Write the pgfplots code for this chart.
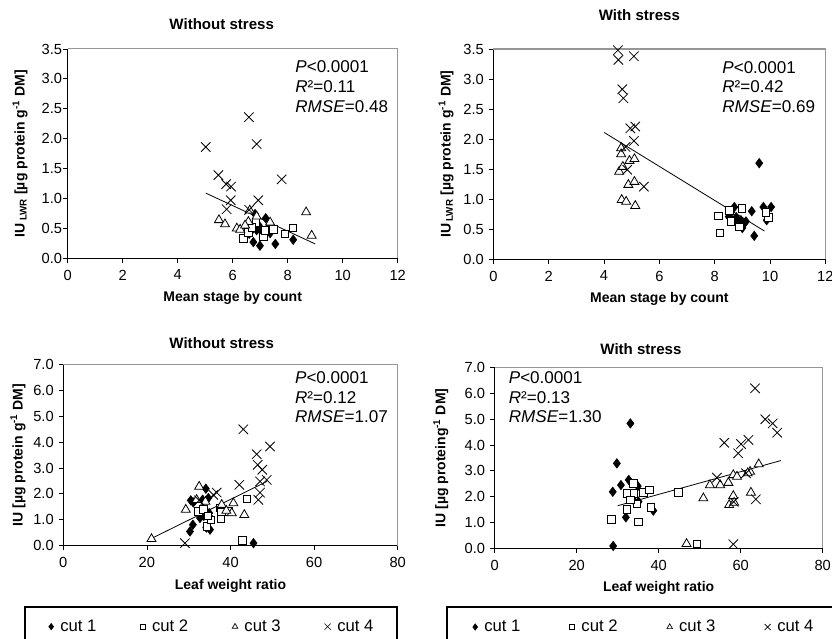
\documentclass[border=0pt]{standalone}
\usepackage{fontspec}
\setmainfont{Liberation Sans}
\usepackage{pgfplots}
\pgfplotsset{compat=1.18}
\definecolor{bordergray}{RGB}{150,150,150}
\pgfplotsset{
  every axis title shift=0pt,
  panel/.style={
    scale only axis,
    axis x line*=bottom, axis y line*=left,
    axis line style={black, line width=0.8pt},
    tick align=outside,
    major tick length=3.5pt,
    tick style={black, line width=0.6pt},
    tick label style={font=\fontsize{11}{12}\selectfont},
    /pgf/number format/assume math mode=true,
    yticklabel style={/pgf/number format/fixed, /pgf/number format/fixed zerofill, /pgf/number format/precision=1},
    title style={font=\bfseries\fontsize{11.3}{13}\selectfont, anchor=center},
    label style={font=\bfseries\fontsize{10.5}{12}\selectfont},
    xlabel style={at={(axis description cs:0.5,0)}, anchor=center, yshift=-30pt},
    xticklabel style={anchor=north, inner sep=0pt, yshift=-5pt},
    clip=false,
  },
  c1/.style={only marks, mark=diamond*, mark size=3.5pt, mark options={fill=black, draw=black, line width=0.5pt}},
  c2/.style={only marks, mark=square*, mark size=2.8pt, mark options={fill=white, draw=black, line width=0.6pt}},
  c3/.style={only marks, mark=triangle*, mark size=3.9pt, mark options={fill=white, draw=black, line width=0.6pt}},
  c4/.style={only marks, mark=x, mark size=5pt, mark options={draw=black, line width=0.6pt}},
  reg/.style={black, line width=0.6pt, no marks, forget plot},
  legpanel/.style={
    legend columns=4,
    legend style={draw=none, fill=none, anchor=center, font=\fontsize{12.5}{14}\selectfont,
      /tikz/every odd column/.append style={column sep=3pt}},
    legend image code/.code={\path[##1] plot coordinates {(0pt,0pt)};},
  },
}
\newcommand{\annfont}{\fontsize{12.8}{14.8}\selectfont}
\begin{document}
\begin{tikzpicture}
% ---------------- Panel 1 ----------------
\begin{axis}[panel, at={(50.78pt,285.53pt)}, anchor=south west,
  width=247.5pt, height=157pt,
  xmin=0, xmax=12, ymin=0, ymax=3.5,
  xtick={0,2,...,12}, ytick={0,0.5,...,3.5},
  yticklabel style={anchor=east, inner sep=0pt, xshift=-0.5pt},
  title={Without stress}, title style={at={(axis description cs:0.4667,1.1195)}},
  xlabel={Mean stage by count},
  ylabel={IU\,\textsubscript{LWR} [µg protein g\textsuperscript{-1} DM]},
  ylabel style={at={(axis description cs:-0.1445,0.5)}, anchor=center},
]
\addplot[c1] coordinates {(6.81,0.74) (7.20,0.67) (6.75,0.27) (6.99,0.21) (7.55,0.24) (8.20,0.31) (6.51,0.51) (6.69,0.47) (6.87,0.47) (7.05,0.44) (7.24,0.47) (7.36,0.42) (6.60,0.41) (6.95,0.55) (7.30,0.52)};
\addplot[c2] coordinates {(6.39,0.33) (6.57,0.43) (7.11,0.36) (7.48,0.48) (7.90,0.41) (8.18,0.51) (6.85,0.60) (7.17,0.47) (6.70,0.52)};
\addplot[c3] coordinates {(5.50,0.64) (5.72,0.57) (6.15,0.50) (6.27,0.48) (6.62,0.80) (6.87,0.70) (7.36,0.60) (8.67,0.77) (8.87,0.38) (6.57,0.61) (6.45,0.55)};
\addplot[c4] coordinates {(5.02,1.86) (6.59,2.36) (6.87,1.91) (7.78,1.32) (5.48,1.39) (5.76,1.24) (5.94,1.20) (5.93,0.97) (5.78,0.82) (6.93,0.97) (6.60,0.81)};
\addplot[reg] coordinates {(5.02,1.09) (9.0,0.24)};
\draw[bordergray, line width=0.8pt] (rel axis cs:0,1) -- (rel axis cs:1,1) -- (rel axis cs:1,0);
\node[anchor=west, align=left, inner sep=0pt, font=\annfont] at (axis cs:8.27,2.87) {\textit{P}<0.0001\\\textit{R}²=0.11\\\textit{RMSE}=0.48};
\end{axis}
% ---------------- Panel 2 ----------------
\begin{axis}[panel, at={(370pt,284.78pt)}, anchor=south west,
  width=249pt, height=157.7pt,
  xmin=0, xmax=12, ymin=0, ymax=3.5,
  xtick={0,2,...,12}, ytick={0,0.5,...,3.5},
  yticklabel style={anchor=east, inner sep=0pt, xshift=-3.5pt},
  title={With stress}, title style={at={(axis description cs:0.4398,1.1617)}},
  xlabel={Mean stage by count},
  ylabel={IU\,\textsubscript{LWR} [µg protein g\textsuperscript{-1} DM]},
  ylabel style={at={(axis description cs:-0.1425,0.5)}, anchor=center},
]
\addplot[c1] coordinates {(9.61,1.60) (8.71,0.87) (9.34,0.80) (9.76,0.87) (10.04,0.87) (9.88,0.65) (9.43,0.39) (8.51,0.71) (8.65,0.65) (8.83,0.63) (9.07,0.60) (9.13,0.63) (8.95,0.65) (8.78,0.70) (9.00,0.52)};
\addplot[c2] coordinates {(8.13,0.72) (8.19,0.44) (8.53,0.81) (8.99,0.85) (9.95,0.70) (8.89,0.54) (8.59,0.63) (9.85,0.78)};
\addplot[c3] coordinates {(4.62,1.85) (4.62,1.75) (4.55,1.46) (4.68,1.54) (4.92,1.64) (5.10,1.67) (4.88,1.24) (5.10,1.29) (4.64,0.99) (4.80,0.96) (5.13,0.89)};
\addplot[c4] coordinates {(4.50,3.48) (4.52,3.32) (5.08,3.38) (4.66,2.83) (4.70,2.68) (4.95,2.18) (5.13,2.21) (5.08,1.97) (4.78,1.87) (4.84,1.49) (5.44,1.21)};
\addplot[reg] coordinates {(4.01,2.11) (9.8,0.47)};
\draw[bordergray, line width=0.8pt] (rel axis cs:0,1) -- (rel axis cs:1,1) -- (rel axis cs:1,0);
\node[anchor=west, align=left, inner sep=0pt, font=\annfont] at (axis cs:8.27,2.87) {\textit{P}<0.0001\\\textit{R}²=0.42\\\textit{RMSE}=0.69};
\end{axis}
% ---------------- Panel 3 ----------------
\begin{axis}[panel, legpanel, at={(47.48pt,69.95pt)}, anchor=south west,
  width=250.8pt, height=136.1pt,
  xmin=0, xmax=80, ymin=0, ymax=7,
  xtick={0,20,...,80}, ytick={0,1,...,7},
  yticklabel style={anchor=east, inner sep=0pt, xshift=-3.5pt},
  title={Without stress}, title style={at={(axis description cs:0.4737,1.1172)}},
  xlabel={Leaf weight ratio},
  ylabel={IU [µg protein g\textsuperscript{-1} DM]},
  ylabel style={at={(axis description cs:-0.1355,0.5)}, anchor=center},
  legend style={at={(axis description cs:0.446,-0.4458)},
    /tikz/every even column/.append style={column sep=31pt}},
]
\addlegendimage{only marks, mark=diamond*, mark size=2.4pt, mark options={fill=black}}
\addlegendimage{only marks, mark=square, mark size=1.9pt, mark options={line width=0.5pt}}
\addlegendimage{only marks, mark=triangle, mark size=2.4pt, mark options={line width=0.5pt}}
\addlegendimage{only marks, mark=x, mark size=3.2pt, mark options={line width=0.5pt}}
\addplot[c1, forget plot] coordinates {(45.5,0.10) (34.1,2.20) (30.5,1.75) (31.1,1.67) (33.3,1.77) (34.7,1.84) (30.3,0.55) (31.0,0.81) (32.7,1.07) (33.1,1.26) (35.1,0.62) (34.9,1.26) (33.6,1.15) (35.3,1.05) (34.2,0.70)};
\addplot[c2, forget plot] coordinates {(42.9,0.20) (43.9,1.81) (37.5,1.45) (37.7,1.04) (32.3,1.32) (34.3,0.74) (35.3,1.00) (39.5,1.32) (33.5,1.40) (37.8,1.30) (34.6,1.15)};
\addplot[c3, forget plot] coordinates {(21.1,0.26) (29.3,1.39) (32.5,2.28) (31.9,1.77) (40.7,1.64) (40.3,1.26) (43.3,1.19) (37.9,1.58) (34.0,1.70) (39.0,1.35)};
\addplot[c4, forget plot] coordinates {(43.06,4.49) (49.45,3.83) (46.27,3.53) (46.5,3.12) (47.6,2.93) (47.06,2.48) (48.66,2.54) (42.1,2.35) (47.06,2.05) (46.65,1.77) (36.7,2.05) (35.9,1.96) (29.1,0.10) (32.5,1.75)};
\addplot[reg] coordinates {(21.1,0.28) (48.7,2.48)};
\draw[bordergray, line width=0.8pt] (rel axis cs:0,1) -- (rel axis cs:1,1) -- (rel axis cs:1,0);
\node[anchor=west, align=left, inner sep=0pt, font=\annfont] at (axis cs:55.4,5.73) {\textit{P}<0.0001\\\textit{R}²=0.12\\\textit{RMSE}=1.07};
\legend{cut 1, cut 2, cut 3, cut 4}
\end{axis}
% ---------------- Panel 4 ----------------
\begin{axis}[panel, legpanel, at={(371pt,68.03pt)}, anchor=south west,
  width=246pt, height=135.45pt,
  xmin=0, xmax=80, ymin=0, ymax=7,
  xtick={0,20,...,80}, ytick={0,1,...,7},
  yticklabel style={anchor=east, inner sep=0pt, xshift=-3.5pt},
  title={With stress}, title style={at={(axis description cs:0.446,1.1035)}},
  xlabel={Leaf weight ratio},
  ylabel={IU [µg proteing\textsuperscript{-1} DM]},
  ylabel style={at={(axis description cs:-0.164,0.5)}, anchor=center},
  legend style={at={(axis description cs:0.4567,-0.4358)},
    /tikz/every even column/.append style={column sep=35pt}},
]
\addlegendimage{only marks, mark=diamond*, mark size=2.4pt, mark options={fill=black}}
\addlegendimage{only marks, mark=square, mark size=1.9pt, mark options={line width=0.5pt}}
\addlegendimage{only marks, mark=triangle, mark size=2.4pt, mark options={line width=0.5pt}}
\addlegendimage{only marks, mark=x, mark size=3.2pt, mark options={line width=0.5pt}}
\addplot[c1, forget plot] coordinates {(33.1,4.84) (29.8,3.29) (32.7,2.65) (30.8,2.45) (28.8,2.19) (34.9,2.41) (32.8,2.07) (33.7,1.90) (35.1,1.81) (38.7,1.46) (32.0,1.20) (28.9,0.09)};
\addplot[c2, forget plot] coordinates {(28.5,1.12) (32.2,1.51) (32.4,2.13) (33.8,2.52) (34.0,2.13) (36.3,2.16) (37.7,2.26) (38.1,1.59) (34.7,1.72) (33.1,1.87) (35.1,1.03) (44.8,2.17) (49.3,0.17)};
\addplot[c3, forget plot] coordinates {(46.8,0.17) (50.9,1.94) (52.5,2.45) (55.0,2.45) (57.0,2.54) (58.2,2.84) (59.1,2.78) (58.2,2.03) (57.2,1.68) (58.4,1.77) (62.3,2.97) (62.5,2.16) (64.4,3.26) (61.7,2.91)};
\addplot[c4, forget plot] coordinates {(63.5,6.20) (66.0,5.00) (67.8,4.84) (68.9,4.48) (56.0,4.09) (60.1,4.04) (61.9,4.20) (59.4,3.68) (54.2,2.74) (61.3,2.91) (63.7,1.90) (58.2,0.16) (58.3,1.80)};
\addplot[reg] coordinates {(30,1.65) (69.8,3.40)};
\draw[bordergray, line width=0.8pt] (rel axis cs:0,1) -- (rel axis cs:1,1) -- (rel axis cs:1,0);
\node[anchor=west, align=left, inner sep=0pt, font=\annfont] at (axis cs:3.4,5.85) {\textit{P}<0.0001\\\textit{R}²=0.13\\\textit{RMSE}=1.30};
\legend{cut 1, cut 2, cut 3, cut 4}
\end{axis}
% legend frames
\draw[black, line width=0.8pt] (18.75pt,-10pt) rectangle (297.75pt,24pt);
\draw[black, line width=0.8pt] (335.25pt,-10pt) rectangle (640pt,24pt);
\pgfresetboundingbox
\useasboundingbox (0pt,0pt) rectangle (624pt,479.25pt);
\end{tikzpicture}
\end{document}
